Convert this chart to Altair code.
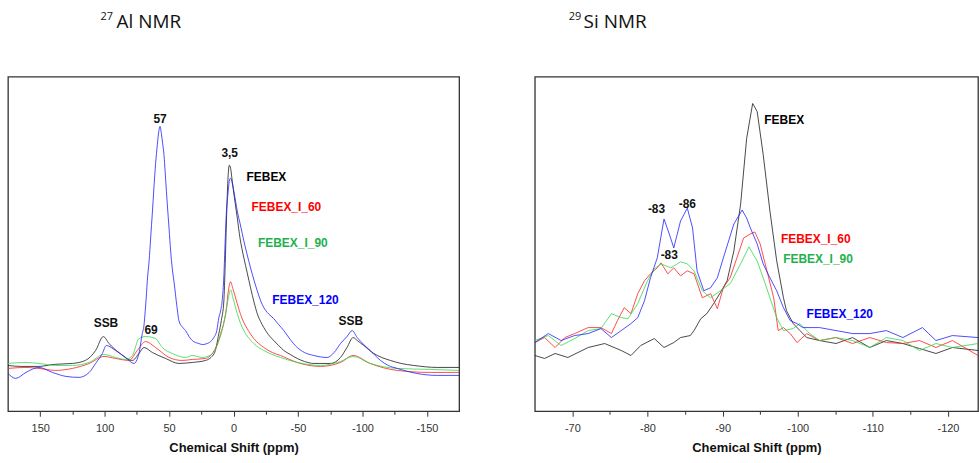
import altair as alt
import pandas as pd

SERIES = ["FEBEX", "FEBEX_I_60", "FEBEX_I_90", "FEBEX_120"]
LINE_COLORS = ["#1a1a1a", "#ff2020", "#33d84a", "#2020ff"]
LABEL_KINDS = ["note"] + SERIES
LABEL_COLORS = ["#111111", "#000000", "#ff0000", "#22b14c", "#0000ff"]

# ---------------- 27Al NMR ----------------
AL_FEBEX_PPM = [175, 165, 151, 140, 125, 115, 107, 101, 96.6, 89, 78.5, 73.4, 69.5, 63, 52.7, 42.4, 32, 21.7, 15,
                11.4, 9.5, 7.5, 6.5, 5.5, 4.5, 3.3, 2.3, 1, -0.5, -2.9, -5, -8, -10.6, -13.2, -16, -18.4, -21,
                -23.5, -27, -31.2, -35, -39, -44, -49.4, -55, -62.2, -75.2, -83, -88, -92.8, -96, -101, -108.8,
                -115, -121.7, -130, -139.8, -158, -175]
AL_FEBEX_INT = [45, 44, 44, 46, 47, 50, 60, 74, 67, 58, 50, 57, 63, 58, 52, 47, 48, 50, 57,
                77, 90, 110, 145, 190, 228, 246, 243, 230, 215, 193, 173, 153, 138, 123, 108, 97, 89,
                83, 76, 70, 65, 60, 56, 52, 49, 47, 47, 53, 63, 73, 70, 65, 57,
                53, 50, 47, 45, 43, 43]

AL_I60_PPM = [175, 161, 151, 138, 125, 112, 100.5, 91.5, 81, 74.7, 68.2, 60.5, 50, 39.8, 32, 21.7, 15, 12, 10, 7.5,
              5.7, 4, 2.3, 0.5, -2.9, -5.5, -8, -11.5, -15.7, -19.5, -23.5, -30, -36.4, -49.4, -67.4, -83, -92.8,
              -106, -127, -152.7, -175]
AL_I60_INT = [42, 43, 42, 40, 42, 47, 54, 52, 50, 60, 69, 63, 53, 50, 51, 52, 60, 68, 77, 88,
              100, 120, 129, 122, 107, 96, 88, 80, 72, 67, 63, 58, 55, 48, 44, 48, 55,
              47, 40, 38, 38]

AL_I90_PPM = [175, 161, 151, 138, 125, 112, 100.5, 91.5, 83.7, 78.5, 73.4, 68.2, 60.5, 55.3, 47.5, 37.2, 32, 24.3,
              16, 11.4, 8.5, 6.2, 4, 2.3, 0.5, -2.9, -5.5, -8, -11.5, -15.7, -19.5, -23.5, -30, -36.4, -49.4,
              -67.4, -83, -92.8, -106, -127, -152.7, -175]
AL_I90_INT = [47, 48, 47, 45, 45, 48, 56, 53, 51, 55, 72, 74, 72, 63, 57, 53, 55, 53,
              57, 70, 82, 97, 113, 121, 113, 97, 87, 80, 73, 67, 63, 60, 56, 53, 48,
              45, 49, 54, 47, 42, 41, 40]

AL_120_PPM = [175, 169, 161, 151, 140.5, 130, 120, 112, 107, 101.8, 98.7, 91.5, 83.7, 77.3, 73.4, 70.8, 69.5, 68.5,
              67.5, 66.9, 65.5, 64.3, 63, 61.8, 60.5, 59.1, 58, 57, 56, 55, 54, 52.7, 51.4, 50, 48.8, 47.5, 46, 44,
              42.4, 40, 37.2, 34.5, 32, 27, 24, 20.4, 17, 15.3, 13, 11.4, 10, 8.8, 7.5, 6.5, 5.5, 4.5, 3, 2.3, 1,
              -0.5, -2.9, -5.5, -8, -10.6, -13.2, -16, -18.4, -21, -23.5, -27, -31.2, -35, -39, -44, -49.4, -55,
              -62.2, -72.6, -78, -83, -88, -92, -95.9, -101, -106, -114, -120, -127, -142, -158, -175]
AL_120_INT = [37, 32, 38, 43, 38, 34, 33, 38, 47, 57, 65, 60, 53, 47, 57, 77, 85, 100,
              118, 130, 150, 173, 198, 223, 247, 267, 280, 285, 278, 268, 257, 232, 207, 182, 160, 142, 127, 105,
              90, 84, 80, 74, 70, 67, 66, 67, 70, 73, 80, 93, 100, 110, 135, 170, 200, 215, 232, 233, 228,
              218, 200, 185, 170, 156, 143, 130, 120, 110, 103, 97, 92, 86, 80, 71, 63, 58,
              55, 53, 58, 67, 74, 80, 73, 66, 60, 50, 45, 42, 37, 35, 35]

AL_LABEL_TEXT = ["57", "3,5", "SSB", "69", "SSB", "FEBEX", "FEBEX_I_60", "FEBEX_I_90", "FEBEX_120"]
AL_LABEL_KIND = ["note", "note", "note", "note", "note", "FEBEX", "FEBEX_I_60", "FEBEX_I_90", "FEBEX_120"]
AL_LABEL_PPM = [57, 3, 99, 64, -91, -25.5, -41, -46, -55.8]
AL_LABEL_INT = [292, 258, 88, 81, 90, 234, 204, 168, 111]

# ---------------- 29Si NMR ----------------
SI_FEBEX_PPM = [-65.0, -66.3, -67.7, -69.4, -72.1, -74.3, -76.5, -77.8, -79.1, -80.9, -82.2, -83.5, -84.4, -85.7,
                -86.2, -87.1, -87.9, -88.8, -89.7, -90.6, -91.5, -92.4, -93.2, -94.0, -94.6, -95.4, -96.3, -97.2,
                -98.1, -98.5, -99.4, -100.3, -101.2, -102.9, -105.1, -107.3, -109.6, -111.8, -114.0, -116.2,
                -118.4, -120.6, -124.0, -125.0]
SI_FEBEX_INT = [55, 52, 57, 53, 63, 67, 60, 55, 65, 72, 63, 68, 73, 75,
                80, 92, 97, 107, 118, 130, 160, 207, 273, 308, 300, 257, 200, 150,
                113, 100, 87, 80, 73, 70, 67, 73, 63, 70, 67, 62,
                57, 63, 60, 58]

SI_I60_PPM = [-65.0, -66.3, -67.7, -69.0, -70.3, -72.1, -73.8, -75.2, -76.0, -76.9, -77.8, -78.7, -79.6, -80.4,
              -81.3, -81.8, -82.7, -83.5, -84.4, -85.3, -86.2, -87.3, -88.4, -89.3, -90.1, -91.0, -91.9, -92.8,
              -93.7, -94.3, -95.0, -95.9, -96.8, -97.4, -98.1, -99.0, -99.9, -101.2, -102.9, -105.1, -107.3,
              -109.6, -111.8, -114.0, -116.2, -118.4, -120.6, -124.0, -125.0]
SI_I60_INT = [68, 73, 63, 73, 77, 83, 83, 77, 90, 103, 97, 117, 130, 137,
              143, 148, 137, 143, 135, 140, 137, 113, 117, 102, 123, 133, 153, 173,
              177, 179, 167, 140, 113, 80, 83, 77, 68, 77, 70, 73, 67,
              73, 68, 67, 70, 63, 70, 55, 55]

SI_I90_PPM = [-65.0, -66.8, -68.5, -70.3, -72.1, -73.8, -75.2, -76.5, -77.4, -78.7, -80.0, -80.9, -81.8, -83.1,
              -84.4, -85.3, -86.2, -87.3, -88.4, -89.7, -91.0, -92.4, -93.5, -94.6, -95.4, -96.3, -97.2, -98.1,
              -99.4, -100.3, -101.6, -102.9, -105.1, -107.3, -109.6, -111.8, -114.0, -116.2, -118.4, -120.6,
              -124.0, -125.0]
SI_I90_INT = [70, 75, 65, 72, 80, 82, 97, 93, 92, 107, 130, 142, 147, 143,
              149, 147, 140, 120, 113, 120, 127, 147, 164, 150, 133, 113, 93, 80,
              82, 87, 77, 70, 73, 70, 63, 73, 70, 60, 67, 63,
              67, 66]

SI_120_PPM = [-65.0, -66.8, -68.5, -70.3, -72.1, -73.8, -75.2, -76.5, -77.8, -78.7, -79.6, -80.4, -81.3, -82.2,
              -82.9, -83.5, -84.4, -85.3, -86.0, -86.6, -87.5, -88.4, -89.3, -90.1, -91.5, -92.6, -93.2, -93.7,
              -94.6, -95.4, -96.3, -97.2, -98.1, -99.0, -99.9, -100.7, -102.9, -105.1, -107.3, -109.6, -111.8,
              -114.0, -116.6, -118.4, -120.6, -124.0, -125.0]
SI_120_INT = [68, 77, 70, 75, 77, 82, 73, 80, 87, 93, 110, 133, 153, 192,
              177, 163, 190, 203, 183, 140, 120, 123, 133, 153, 187, 201, 193, 183,
              167, 147, 133, 120, 103, 90, 87, 83, 83, 80, 77, 77, 80,
              73, 83, 70, 75, 73, 72]

SI_LABEL_TEXT = ["-83", "-86", "-83", "FEBEX", "FEBEX_I_60", "FEBEX_I_90", "FEBEX_120"]
SI_LABEL_KIND = ["note", "note", "note", "FEBEX", "FEBEX_I_60", "FEBEX_I_90", "FEBEX_120"]
SI_LABEL_PPM = [-81.2, -85.3, -82.9, -98.2, -102.4, -102.7, -105.6]
SI_LABEL_INT = [202, 207, 156, 291, 172, 152, 97]

AL_TITLE = ["27", "Al NMR"]
SI_TITLE = ["29", "Si NMR"]


def spectra(pairs):
    rows = []
    for name, (ppm, inten) in zip(SERIES, pairs):
        for k, (p, v) in enumerate(zip(ppm, inten)):
            rows.append({"ppm": p, "int": v, "s": name, "o": k})
    return pd.DataFrame(rows)


def labels(text, kind, ppm, inten):
    return pd.DataFrame({"t": text, "k": kind, "ppm": ppm, "int": inten})


FONT = "Liberation Sans"


def panel(df, lab, title, domain, tick_values, major, width, sup_x, main_x, interp):
    axis = alt.Axis(
        values=tick_values,
        labelExpr=f"datum.value % {major} === 0 ? '' + datum.value : ''",
        labelOverlap=False,
        labelFlush=False,
        tickSize={"condition": {"test": f"datum.value % {major} === 0", "value": 5}, "value": 3},
        tickColor="#333333",
        tickWidth=1,
        domain=False,
        grid=False,
        title="Chemical Shift (ppm)",
        titleFont=FONT,
        titleFontWeight="bold",
        titleFontSize=13,
        titleColor="#111111",
        titlePadding=8,
        labelFont=FONT,
        labelFontSize=11,
        labelColor="#333333",
        labelPadding=6,
    )
    x = alt.X("ppm:Q", scale=alt.Scale(domain=domain, reverse=True, nice=False, zero=False), axis=axis)
    y = alt.Y("int:Q", scale=alt.Scale(domain=[-1, 335], nice=False, zero=False), axis=None)

    lines = alt.Chart(df).mark_line(strokeWidth=0.8, clip=True, interpolate=interp).encode(
        x=x, y=y,
        color=alt.Color("s:N", scale=alt.Scale(domain=SERIES, range=LINE_COLORS), legend=None),
        order="o:Q",
    )
    notes = alt.Chart(lab).mark_text(font=FONT, fontWeight="bold", fontSize=12).encode(
        x=x, y=y, text="t:N",
        fill=alt.Fill("k:N", scale=alt.Scale(domain=LABEL_KINDS, range=LABEL_COLORS), legend=None),
    )
    sup = alt.Chart(pd.DataFrame({"t": [title[0]]})).mark_text(
        font="Open Sans", fontSize=11, align="left", baseline="alphabetic", color="#111111"
    ).encode(x=alt.value(sup_x), y=alt.value(-57), text="t:N")
    main = alt.Chart(pd.DataFrame({"t": [title[1]]})).mark_text(
        font="Open Sans", fontSize=19, align="left", baseline="alphabetic", color="#111111"
    ).encode(x=alt.value(main_x), y=alt.value(-49), text="t:N")
    return alt.layer(lines, notes, sup, main).properties(width=width, height=336)


al_df = spectra([(AL_FEBEX_PPM, AL_FEBEX_INT), (AL_I60_PPM, AL_I60_INT),
                 (AL_I90_PPM, AL_I90_INT), (AL_120_PPM, AL_120_INT)])
si_df = spectra([(SI_FEBEX_PPM, SI_FEBEX_INT), (SI_I60_PPM, SI_I60_INT),
                 (SI_I90_PPM, SI_I90_INT), (SI_120_PPM, SI_120_INT)])

left = panel(al_df, labels(AL_LABEL_TEXT, AL_LABEL_KIND, AL_LABEL_PPM, AL_LABEL_INT), AL_TITLE,
             [-175, 175], list(range(-150, 151, 25)), 50, 453, 93, 109, "monotone")
right = panel(si_df, labels(SI_LABEL_TEXT, SI_LABEL_KIND, SI_LABEL_PPM, SI_LABEL_INT), SI_TITLE,
              [-124, -65], list(range(-120, -69, 5)), 10, 445, 34, 49, "linear")

chart = alt.hconcat(left, right, spacing=74).properties(
    padding={"left": 7, "top": 9, "right": 0, "bottom": 0},
    background="white",
).configure_view(stroke="#333333", strokeWidth=1.3)

chart.save("out.html", embed_options={"renderer": "svg", "actions": False})
